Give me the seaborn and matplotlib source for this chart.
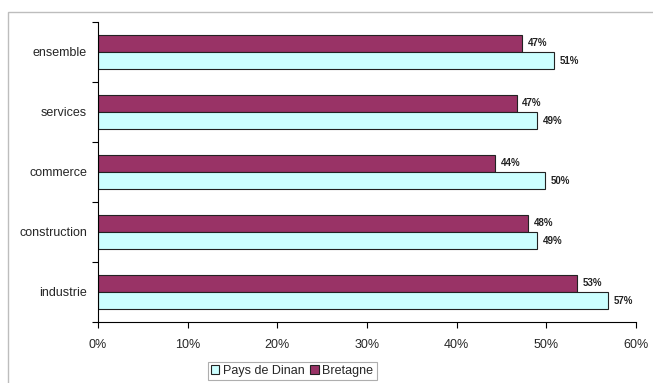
# Part des salariés par secteur : Pays de Dinan vs Bretagne

import numpy as np
import pandas as pd
import matplotlib
matplotlib.use("Agg")
import matplotlib.pyplot as plt
import seaborn as sns
from matplotlib.patches import Patch, Rectangle
from matplotlib.ticker import PercentFormatter, FixedLocator

secteurs = ['ensemble', 'services', 'commerce', 'construction', 'industrie']
bretagne = [47.3, 46.7, 44.3, 48.0, 53.4]
pays_dinan = [50.9, 49.0, 49.9, 49.0, 56.9]

df = pd.DataFrame({
    'secteur': secteurs * 2,
    'valeur': bretagne + pays_dinan,
    'zone': ['Bretagne'] * len(secteurs) + ['Pays de Dinan'] * len(secteurs),
})

couleurs = {'Bretagne': '#993366', 'Pays de Dinan': '#ccffff'}

sns.set_style("white")
plt.rcParams['font.family'] = ['Liberation Sans', 'DejaVu Sans']

fig = plt.figure(figsize=(6.53, 3.83), dpi=100)
ax = fig.add_axes([98 / 653, 1 - 322 / 383, 538 / 653, 300 / 383])

sns.barplot(data=df, y='secteur', x='valeur', hue='zone',
            order=secteurs, hue_order=['Bretagne', 'Pays de Dinan'],
            palette=couleurs, saturation=1, width=0.58,
            edgecolor='#222222', linewidth=0.8, legend=False, ax=ax)

for cont in ax.containers:
    ax.bar_label(cont, fmt='%.0f%%', padding=4, fontsize=7,
                 fontweight='bold', color='#222222')

ax.set_xlim(0, 60)
ax.set_ylim(4.5, -0.5)
ax.xaxis.set_major_locator(FixedLocator(np.arange(0, 61, 10)))
ax.xaxis.set_major_formatter(PercentFormatter(decimals=0))
ax.tick_params(axis='x', length=4, width=0.8, color='black', labelsize=9,
               pad=8, bottom=True)
ax.yaxis.set_minor_locator(FixedLocator(np.arange(-0.5, 5, 1)))
ax.tick_params(axis='y', which='major', length=0, labelsize=9, pad=8)
ax.tick_params(axis='y', which='minor', length=4, width=0.8, color='black', left=True)
ax.set_xlabel('')
ax.set_ylabel('')
ax.grid(False)
sns.despine(ax=ax, top=True, right=True)
for s in ['left', 'bottom']:
    ax.spines[s].set_color('black')
    ax.spines[s].set_linewidth(0.8)

# cadre gris autour du graphique
fig.patches.append(Rectangle((8 / 653, -0.05), 1.0, 1 - 12 / 383 + 0.05,
                             transform=fig.transFigure, fill=False,
                             edgecolor='#bdbdbd', linewidth=1.0))

handles = [Patch(facecolor=couleurs['Pays de Dinan'], edgecolor='#222222', linewidth=0.8),
           Patch(facecolor=couleurs['Bretagne'], edgecolor='#222222', linewidth=0.8)]
leg = fig.legend(handles, ['Pays de Dinan', 'Bretagne'], loc='upper center',
                 bbox_to_anchor=(292 / 653, 1 - 362 / 383), ncol=2, fontsize=9,
                 frameon=True, fancybox=False, edgecolor='#9a9a9a',
                 handlelength=0.7, handleheight=0.7, handletextpad=0.3,
                 columnspacing=0.4, borderpad=0.25, borderaxespad=0)
leg.get_frame().set_linewidth(0.8)

fig.savefig("out.png", dpi=100)
